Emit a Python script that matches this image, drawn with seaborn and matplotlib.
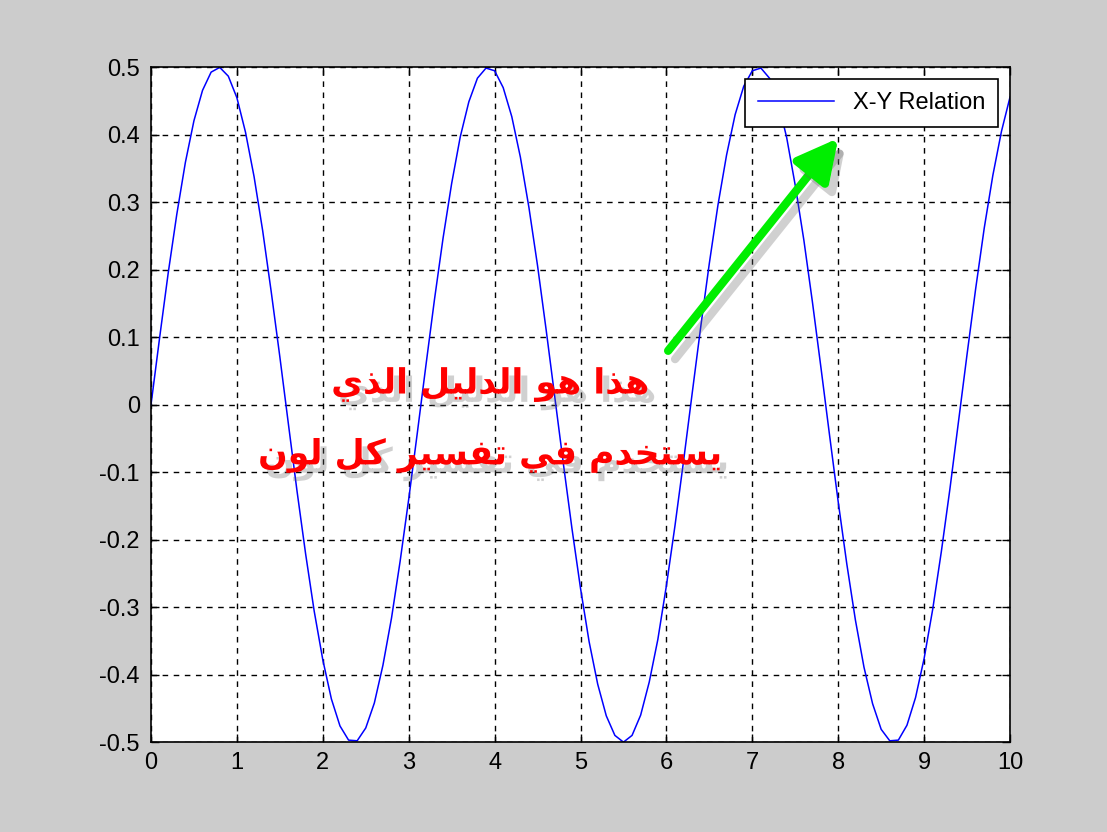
import numpy as np
import pandas as pd
import matplotlib
matplotlib.use("Agg")
import matplotlib.pyplot as plt
import matplotlib.patheffects as pe
import seaborn as sns

# x-y 관계 곡선 (그림에서 0.1 간격으로 읽은 값)
x_vals = [round(0.1 * i, 1) for i in range(101)]
y_vals = [
    0.000, 0.099, 0.195, 0.282, 0.359, 0.421, 0.466, 0.493, 0.500, 0.487,
    0.455, 0.404, 0.338, 0.258, 0.167, 0.071, -0.029, -0.128, -0.221, -0.306,
    -0.378, -0.436, -0.476, -0.497, -0.498, -0.479, -0.442, -0.386, -0.316, -0.232,
    -0.140, -0.042, 0.058, 0.156, 0.247, 0.328, 0.397, 0.449, 0.484, 0.499,
    0.495, 0.470, 0.427, 0.367, 0.292, 0.206, 0.111, 0.012, -0.087, -0.183,
    -0.272, -0.351, -0.414, -0.461, -0.490, -0.500, -0.490, -0.460, -0.411, -0.348,
    -0.268, -0.179, -0.083, 0.017, 0.116, 0.210, 0.296, 0.370, 0.430, 0.472,
    0.495, 0.499, 0.484, 0.449, 0.396, 0.325, 0.244, 0.152, 0.054, -0.046,
    -0.144, -0.236, -0.319, -0.389, -0.443, -0.481, -0.498, -0.497, -0.475, -0.434,
    -0.376, -0.303, -0.218, -0.125, -0.025, 0.075, 0.172, 0.262, 0.340, 0.405,
    0.456,
]
series_label = "X-Y Relation"
x_ticks = list(range(0, 11))
y_ticks = [-0.5, -0.4, -0.3, -0.2, -0.1, 0, 0.1, 0.2, 0.3, 0.4, 0.5]
y_ticklabels = ["-0.5", "-0.4", "-0.3", "-0.2", "-0.1", "0", "0.1", "0.2", "0.3", "0.4", "0.5"]
note_lines = ["هذا هو الدليل الذي", "يستخدم في تفسير كل لون"]

# 아랍어 글자 모양(고립/끝/처음/중간) - matplotlib은 shaping을 안 해서 직접 처리
FORMS = {
    'ا': ('\uFE8D', '\uFE8E', None, None),
    'د': ('\uFEA9', '\uFEAA', None, None),
    'ذ': ('\uFEAB', '\uFEAC', None, None),
    'ر': ('\uFEAD', '\uFEAE', None, None),
    'و': ('\uFEED', '\uFEEE', None, None),
    'ه': ('\uFEE9', '\uFEEA', '\uFEEB', '\uFEEC'),
    'ل': ('\uFEDD', '\uFEDE', '\uFEDF', '\uFEE0'),
    'ي': ('\uFEF1', '\uFEF2', '\uFEF3', '\uFEF4'),
    'س': ('\uFEB1', '\uFEB2', '\uFEB3', '\uFEB4'),
    'ت': ('\uFE95', '\uFE96', '\uFE97', '\uFE98'),
    'خ': ('\uFEA5', '\uFEA6', '\uFEA7', '\uFEA8'),
    'م': ('\uFEE1', '\uFEE2', '\uFEE3', '\uFEE4'),
    'ف': ('\uFED1', '\uFED2', '\uFED3', '\uFED4'),
    'ك': ('\uFED9', '\uFEDA', '\uFEDB', '\uFEDC'),
    'ن': ('\uFEE5', '\uFEE6', '\uFEE7', '\uFEE8'),
}


def shape_arabic(text):
    out = []
    for i, c in enumerate(text):
        if c not in FORMS:
            out.append(c)
            continue
        prev_join = i > 0 and text[i - 1] in FORMS and FORMS[text[i - 1]][2] is not None
        next_join = FORMS[c][2] is not None and i + 1 < len(text) and text[i + 1] in FORMS
        iso, fin, ini, med = FORMS[c]
        if prev_join and next_join:
            out.append(med)
        elif prev_join:
            out.append(fin)
        elif next_join:
            out.append(ini)
        else:
            out.append(iso)
    return "".join(reversed(out))


df = pd.DataFrame({"x": x_vals, "y": y_vals})

plt.rcParams['font.family'] = ['Liberation Sans', 'DejaVu Sans']
fig = plt.figure(figsize=(11.07, 8.32), dpi=100, facecolor='#cccccc')
ax = fig.add_axes([0.1364, 0.108, 0.776, 0.811])
ax.set_facecolor('white')

sns.lineplot(data=df, x="x", y="y", color='#0000ff', linewidth=1.1, label=series_label, ax=ax)

ax.set_xlim(0, 10)
ax.set_ylim(-0.5, 0.5)
ax.set_xticks(x_ticks)
ax.set_xticklabels([str(t) for t in x_ticks])
ax.set_yticks(y_ticks)
ax.set_yticklabels(y_ticklabels)
ax.set_xlabel("")
ax.set_ylabel("")
ax.grid(True, color='black', linestyle=(0, (4, 4)), linewidth=1.0)
ax.tick_params(direction='in', length=6, width=1, top=True, right=True,
               labelsize=17, colors='black')
ax.tick_params(axis='y', pad=8)
ax.tick_params(axis='x', pad=7)
for sp in ax.spines.values():
    sp.set_color('black')
    sp.set_linewidth(1.2)

leg = ax.legend(loc='upper right', fontsize=17, frameon=True, fancybox=False,
                edgecolor='black', framealpha=1, handlelength=3.2,
                borderaxespad=0.5, borderpad=0.55)
leg.get_frame().set_linewidth(1.2)

# 화살표 (그림자 포함)
ax.annotate("", xy=(8.0, 0.395), xytext=(6.02, 0.08),
            arrowprops=dict(arrowstyle='-|>,head_length=2.5,head_width=1.3',
                            color='#00ee00', lw=6, shrinkA=0, shrinkB=0,
                            path_effects=[pe.SimpleLineShadow(offset=(5, -6), shadow_color='0.4', alpha=0.3),
                                          pe.Normal()]))

# 아랍어 설명 문구
for txt, yy in zip(note_lines, [0.03, -0.075]):
    ax.text(3.95, yy, shape_arabic(txt), color='red', fontsize=25, fontweight='bold',
            family='DejaVu Sans', ha='center', va='center',
            path_effects=[pe.withSimplePatchShadow(offset=(5, -6), shadow_rgbFace='0.4', alpha=0.3)])

plt.savefig("out.png", dpi=100, facecolor=fig.get_facecolor())
